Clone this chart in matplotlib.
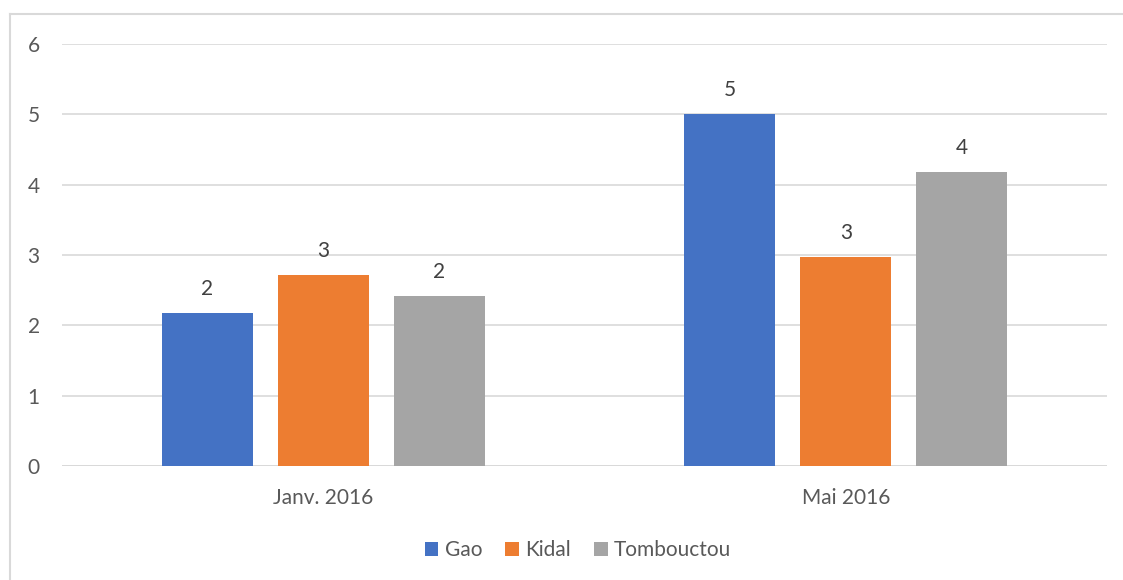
import matplotlib
matplotlib.use('Agg')
import matplotlib.pyplot as plt
from matplotlib.lines import Line2D
import numpy as np

periods = ['Janv. 2016', 'Mai 2016']
regions = ['Gao', 'Kidal', 'Tombouctou']
gao = [2.17, 5.0]
kidal = [2.72, 2.97]
tombouctou = [2.42, 4.18]
colors = ['#4472C4', '#ED7D31', '#A5A5A5']

plt.rcParams['font.family'] = ['Lato', 'DejaVu Sans']
txt = '#595959'
fs = 15

fig = plt.figure(figsize=(11.23, 5.8), dpi=100)
ax = fig.add_axes([62/1123, 1-466/580, (1107-62)/1123, (466-44)/580])

x = np.arange(len(periods))
w = 0.174
step = 0.222
series = [gao, kidal, tombouctou]
for i, (name, vals) in enumerate(zip(regions, series)):
    bars = ax.bar(x + (i-1)*step, vals, w, color=colors[i], label=name, zorder=3)
    for b, v in zip(bars, vals):
        ax.annotate('%d' % round(v), (b.get_x() + b.get_width()/2, v),
                    xytext=(0, 13), textcoords='offset points',
                    ha='center', va='baseline', fontsize=fs, color='#404040')

ax.set_xlim(-0.5, 1.5)
ax.set_ylim(0, 6)
ax.set_yticks(range(7))
ax.set_xticks(x)
ax.set_xticklabels(periods)
ax.tick_params(length=0, labelsize=fs, labelcolor=txt)
ax.tick_params(axis='y', pad=16)
ax.tick_params(axis='x', pad=16)
ax.grid(axis='y', color='#D9D9D9', lw=1.2, zorder=0)
for s in ax.spines.values():
    s.set_visible(False)
ax.axhline(0, color='#D9D9D9', lw=2, zorder=2)

fig.legend(loc='center', bbox_to_anchor=(578/1123, 1-550/580), ncol=3,
           frameon=False, fontsize=fs, labelcolor=txt,
           handlelength=0.67, handleheight=0.67, handletextpad=0.3,
           columnspacing=1.1)

# chart frame (left and top only visible in the crop)
fig.add_artist(Line2D([10/1123, 10/1123], [0, 1-14/580], color='#D9D9D9', lw=1.5))
fig.add_artist(Line2D([10/1123, 1], [1-14/580, 1-14/580], color='#D9D9D9', lw=1.5))

fig.savefig('out.png', dpi=100)
